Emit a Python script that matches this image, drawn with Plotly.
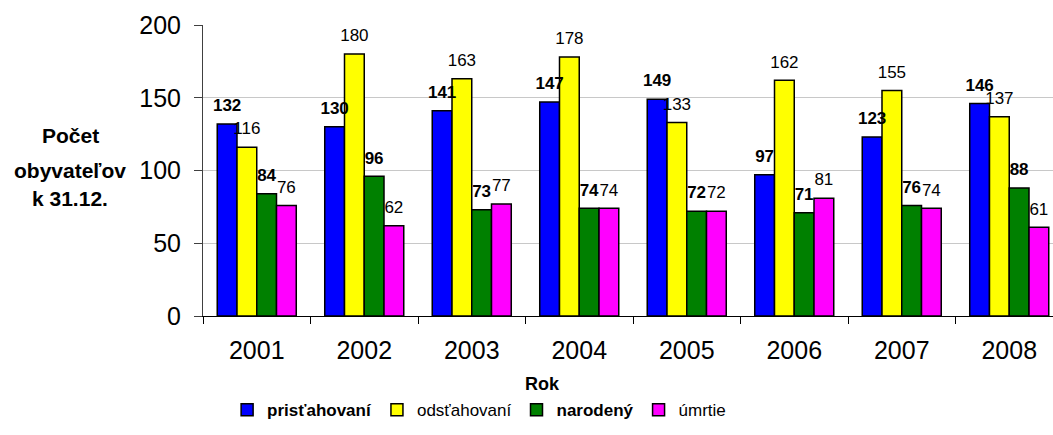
import plotly.graph_objects as go

years = ["2001", "2002", "2003", "2004", "2005", "2006", "2007", "2008"]
pristahovani = [132, 130, 141, 147, 149, 97, 123, 146]
odstahovani = [116, 180, 163, 178, 133, 162, 155, 137]
narodeny = [84, 96, 73, 74, 72, 71, 76, 88]
umrtie = [76, 62, 77, 74, 72, 81, 74, 61]

series = [
    ("<b>prisťahovaní</b>", pristahovani, "#0000FF", True),
    ("odsťahovaní", odstahovani, "#FFFF00", False),
    ("<b>narodený</b>", narodeny, "#008000", True),
    ("úmrtie", umrtie, "#FF00FF", False),
]

FONT = "Liberation Sans, Arial, sans-serif"
GAP = 0.265

fig = go.Figure()
for name, vals, color, bold in series:
    fig.add_trace(go.Bar(
        x=years, y=vals, name=name,
        marker=dict(color=color, line=dict(color="black", width=1.5)),
    ))

# value labels as grouped text traces, drawn above all bars;
# an invisible marker lifts each label a little off the bar top
for name, vals, color, bold in series:
    fig.add_trace(go.Scatter(
        x=years, y=vals, mode="markers+text", showlegend=False, hoverinfo="skip",
        marker=dict(size=12, opacity=0),
        text=[f"<b>{v}</b>" if bold else str(v) for v in vals],
        textposition="top center",
        textfont=dict(family=FONT, size=17, color="black"),
        cliponaxis=False,
    ))

# y-axis title, one annotation per line (pixel rows converted to paper units)
plot_top, plot_bottom, plot_left, plot_w = 25, 316, 203, 850
title_lines = ["<b>Počet</b>", "<b>obyvateľov</b>", "<b>k 31.12.</b>"]
title_rows = [135, 170, 198]
annotations = [
    dict(text=t, xref="paper", yref="paper",
         x=(70 - plot_left) / plot_w, y=(plot_bottom - r) / (plot_bottom - plot_top),
         xanchor="center", yanchor="middle", showarrow=False,
         font=dict(family=FONT, size=21, color="black"))
    for t, r in zip(title_lines, title_rows)
]
annotations.append(dict(
    text="<b>Rok</b>", xref="paper", yref="paper",
    x=(542 - plot_left) / plot_w, y=(plot_bottom - 384) / (plot_bottom - plot_top),
    xanchor="center", yanchor="middle", showarrow=False,
    font=dict(family=FONT, size=18, color="black")))

fig.update_layout(
    width=1053, height=435,
    margin=dict(l=203, r=0, t=25, b=119),
    paper_bgcolor="white", plot_bgcolor="white",
    barmode="group", bargap=GAP, bargroupgap=0,
    scattermode="group", scattergap=GAP,
    font=dict(family=FONT, color="black"),
    showlegend=True,
    legend=dict(
        orientation="h", xref="container", yref="container",
        x=0.455, xanchor="center", y=0.057, yanchor="middle",
        font=dict(family=FONT, size=17, color="black"),
        itemwidth=30, tracegroupgap=0,
    ),
    xaxis=dict(
        range=[-0.5, 7.407],
        showline=True, linecolor="black", linewidth=1,
        ticks="outside", tickson="boundaries", ticklen=7, tickcolor="black",
        tickfont=dict(family=FONT, size=25, color="black"),
        ticklabelstandoff=12,
        showgrid=False,
    ),
    yaxis=dict(
        range=[0, 200], tickvals=[0, 50, 100, 150, 200],
        showline=True, linecolor="#404040", linewidth=1,
        ticks="outside", ticklen=8, tickcolor="#404040",
        tickfont=dict(family=FONT, size=25, color="black"),
        ticklabelstandoff=8,
        showgrid=True, gridcolor="#C8C8C8", gridwidth=1,
        zeroline=False,
    ),
    annotations=annotations,
)

fig.write_html("out.html")
